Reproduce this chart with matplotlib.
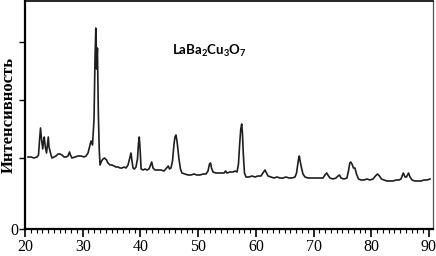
import matplotlib
matplotlib.use("Agg")
import matplotlib.pyplot as plt
from matplotlib.ticker import MultipleLocator
import numpy as np

# XRD pattern of LaBa2Cu3O7 (2theta, a.u.)
two_theta = [20.52, 21.04, 21.56, 22.08, 22.34, 22.51, 22.69, 22.86, 23.07, 23.21,
             23.34, 23.52, 23.73, 23.90, 24.04, 24.16, 24.33, 24.51, 24.68, 25.03,
             25.37, 25.72, 26.06, 26.41, 26.76, 27.10, 27.45, 27.71, 27.88, 28.14,
             28.66, 29.18, 29.70, 30.22, 30.57, 30.92, 31.18, 31.44, 31.70, 31.96,
             32.13, 32.27, 32.41, 32.55, 32.71, 32.86, 33.00, 33.26, 33.52, 33.78,
             34.12, 34.38, 34.73, 35.08, 35.42, 35.77, 36.12, 36.46, 36.81, 37.15,
             37.50, 37.85, 38.11, 38.37, 38.54, 38.72, 38.97, 39.23, 39.49, 39.66,
             39.80, 39.96, 40.12, 40.46, 40.80, 41.14, 41.49, 41.75, 41.95, 42.18,
             42.53, 43.05, 43.57, 44.09, 44.52, 44.83, 45.04, 45.30, 45.56, 45.82,
             45.99, 46.16, 46.34, 46.51, 46.68, 46.94, 47.20, 47.72, 48.24, 48.76,
             49.28, 49.80, 50.32, 50.84, 51.36, 51.71, 51.97, 52.15, 52.32, 52.58,
             53.10, 53.62, 54.14, 54.49, 54.75, 55.00, 55.52, 56.04, 56.39, 56.74,
             56.99, 57.20, 57.39, 57.55, 57.69, 57.83, 58.03, 58.30, 58.81, 59.33,
             59.85, 60.37, 60.89, 61.23, 61.58, 61.84, 62.11, 62.63, 63.15, 63.67,
             64.19, 64.71, 65.23, 65.75, 66.27, 66.79, 67.05, 67.22, 67.40, 67.53,
             67.71, 67.92, 68.17, 68.52, 69.04, 69.56, 70.08, 70.60, 71.12, 71.64,
             71.98, 72.28, 72.59, 72.85, 73.37, 73.89, 74.24, 74.49, 74.75, 75.27,
             75.79, 76.05, 76.28, 76.45, 76.66, 76.92, 77.18, 77.44, 77.79, 78.22,
             78.74, 79.26, 79.78, 80.30, 80.73, 81.08, 81.42, 81.77, 82.21, 82.73,
             83.25, 83.77, 84.29, 84.81, 85.15, 85.55, 85.85, 86.11, 86.46, 86.72,
             87.07, 87.59, 88.10, 88.62, 89.14, 89.66, 90.18]
intensity = [72, 72, 71, 72, 74, 88, 101, 90, 80, 88,
             92, 82, 76, 85, 92, 82, 78, 74, 71, 72,
             73, 75, 75, 74, 72, 72, 73, 77, 74, 71,
             72, 73, 73, 72, 73, 76, 82, 88, 84, 110,
             170, 201, 160, 181, 116, 80, 64, 68, 70, 71,
             69, 66, 64, 64, 63, 62, 62, 61, 61, 62,
             61, 64, 70, 76, 68, 61, 60, 62, 70, 85,
             92, 78, 60, 59, 60, 59, 60, 64, 67, 61,
             59, 59, 59, 58, 61, 63, 60, 61, 68, 85,
             92, 94, 88, 79, 70, 60, 56, 55, 54, 54,
             55, 54, 54, 55, 55, 58, 65, 66, 61, 57,
             56, 56, 56, 56, 58, 56, 57, 57, 58, 57,
             65, 85, 100, 105, 95, 75, 56, 52, 52, 53,
             52, 53, 53, 56, 59, 56, 53, 52, 51, 52,
             51, 51, 52, 51, 51, 52, 56, 63, 70, 73,
             67, 61, 55, 52, 51, 51, 51, 51, 51, 51,
             54, 56, 53, 51, 50, 51, 53, 54, 51, 50,
             51, 58, 66, 67, 65, 61, 61, 55, 50, 49,
             49, 50, 49, 50, 53, 55, 53, 50, 49, 48,
             48, 48, 49, 49, 50, 56, 52, 52, 56, 52,
             49, 48, 48, 48, 49, 49, 50]

y_ticks = [0, 71, 129, 187]
y_ticklabels = ["0", "", "", ""]
x_ticks = [20, 30, 40, 50, 60, 70, 80, 90]

plt.rcParams["mathtext.fontset"] = "custom"
plt.rcParams["mathtext.rm"] = "Lato:bold"
plt.rcParams["mathtext.it"] = "Lato:bold"
plt.rcParams["mathtext.bf"] = "Lato:bold"

fig = plt.figure(figsize=(4.36, 2.56), dpi=100)
ax = fig.add_axes([25 / 436, 27 / 256, 408 / 436, 228 / 256])

ax.plot(two_theta, intensity, color="#1e1e1e", lw=1.2)

ax.set_xlim(20, 90.7)
ax.set_ylim(0, 228)
ax.set_xticks(x_ticks)
ax.xaxis.set_minor_locator(MultipleLocator(1))
ax.set_yticks(y_ticks)
ax.set_yticklabels(y_ticklabels)

for lab in ax.get_xticklabels() + ax.get_yticklabels():
    lab.set_family("Liberation Serif")
    lab.set_fontsize(11.5)

ax.tick_params(axis="x", which="major", direction="out", length=6, width=1.2, pad=1)
ax.tick_params(axis="x", which="minor", direction="out", length=3, width=0.8)
ax.tick_params(axis="y", which="major", direction="out", length=4, width=1.0, pad=1)

ax.spines["left"].set_linewidth(1.6)
ax.spines["bottom"].set_linewidth(1.6)
ax.spines["top"].set_linewidth(1.2)
ax.spines["right"].set_linewidth(0.9)
ax.spines["right"].set_color("#555555")

ax.set_ylabel("Интенсивность", family="Liberation Serif", fontweight="bold",
              fontsize=12)
ax.yaxis.set_label_coords(-8 / 408, 0.5)

ax.text(51.9, 178, r"$\mathrm{LaBa_2Cu_3O_7}$", ha="center", va="center",
        fontsize=9.5)

fig.savefig("out.png", dpi=100)
